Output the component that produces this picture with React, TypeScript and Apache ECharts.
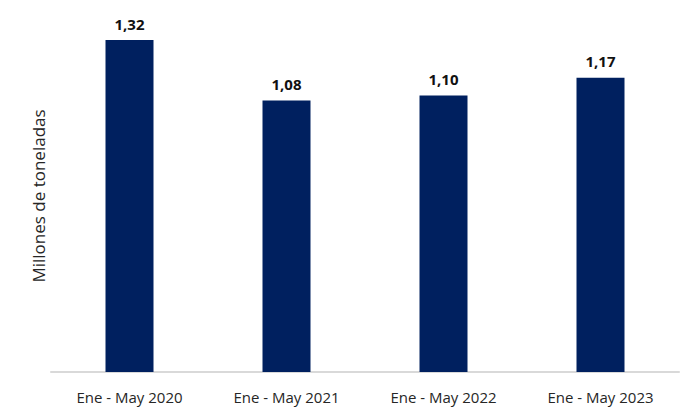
import React, { useEffect, useRef } from "react";
import * as echarts from "echarts";

const categories = ["Ene - May 2020", "Ene - May 2021", "Ene - May 2022", "Ene - May 2023"];
const values = [1.32, 1.08, 1.1, 1.17];
const yAxisName = "Millones de toneladas";

export default function App() {
  const ref = useRef<HTMLDivElement>(null);
  useEffect(() => {
    const chart = echarts.init(ref.current!, null, { renderer: "svg" });
    chart.setOption({
      animation: false,
      textStyle: { fontFamily: "Open Sans" },
      grid: { left: 51, right: 21, top: 20, bottom: 48 },
      xAxis: {
        type: "category",
        data: categories,
        axisLine: { lineStyle: { color: "#d9d9d9", width: 2 } },
        axisTick: { show: false },
        axisLabel: { color: "#262626", fontSize: 15, margin: 17, fontFamily: "Open Sans" },
      },
      yAxis: {
        type: "value",
        min: 0,
        max: 1.4,
        axisLine: { show: false },
        axisTick: { show: false },
        axisLabel: { show: false },
        splitLine: { show: false },
        name: yAxisName,
        nameLocation: "middle",
        nameGap: 4,
        nameTextStyle: { color: "#262626", fontSize: 17, fontFamily: "Open Sans" },
      },
      series: [
        {
          type: "bar",
          data: values,
          barWidth: 48,
          itemStyle: { color: "#00205f" },
          label: {
            show: true,
            position: "top",
            distance: 9,
            color: "#111",
            fontSize: 15,
            fontWeight: "bold",
            fontFamily: "Open Sans",
            formatter: (p: any) => p.value.toFixed(2).replace(".", ","),
          },
        },
      ],
    });
    return () => chart.dispose();
  }, []);
  return <div ref={ref} style={{ width: 700, height: 420, position: "absolute", left: 0, top: 0 }} />;
}
